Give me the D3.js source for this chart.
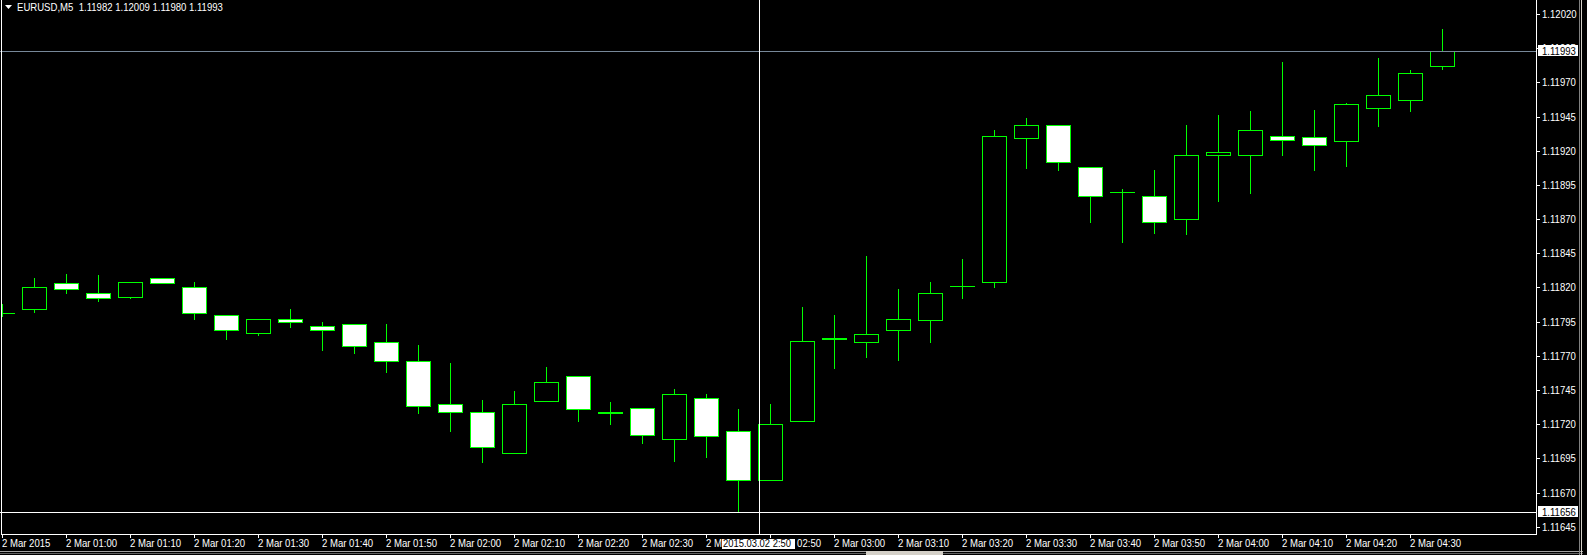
<!DOCTYPE html>
<html><head><meta charset="utf-8">
<script src="https://cdn.jsdelivr.net/npm/d3@7"></script>
<style>
html,body{margin:0;padding:0;background:#000;overflow:hidden}
svg{display:block}
text{font-family:"Liberation Sans",Arial,sans-serif;font-size:11px}
</style></head><body><svg id="c" width="1587" height="555"></svg>
<script>
// ---- data ----
const symbol = "EURUSD,M5";
const titleQuote = ["1.11982", "1.12009", "1.11980", "1.11993"];
const opens  = [1.11801,1.11804,1.11823,1.11816,1.11813,1.11827,1.11820,1.11800,1.11787,1.11797,
                1.11792,1.11793,1.11780,1.11766,1.11735,1.11729,1.11699,1.11737,1.11755,1.11728,
                1.11732,1.11709,1.11739,1.11715,1.11679,1.11722,1.11782,1.11780,1.11789,1.11796,
                1.11821,1.11824,1.11929,1.11939,1.11908,1.11890,1.11887,1.11870,1.11917,1.11917,
                1.11931,1.11930,1.11927,1.11951,1.11957,1.11982];
const highs  = [1.11808,1.11827,1.11830,1.11829,1.11824,1.11827,1.11824,1.11800,1.11797,1.11804,
                1.11795,1.11793,1.11793,1.11778,1.11765,1.11738,1.11744,1.11762,1.11755,1.11736,
                1.11732,1.11746,1.11742,1.11731,1.11735,1.11806,1.11800,1.11843,1.11819,1.11824,
                1.11841,1.11935,1.11944,1.11939,1.11908,1.11892,1.11906,1.11939,1.11946,1.11949,
                1.11985,1.11950,1.11955,1.11988,1.11979,1.12009];
const lows   = [1.11799,1.11802,1.11816,1.11810,1.11812,1.11823,1.11797,1.11782,1.11785,1.11791,
                1.11774,1.11772,1.11758,1.11728,1.11715,1.11692,1.11699,1.11737,1.11722,1.11720,
                1.11706,1.11693,1.11696,1.11656,1.11679,1.11722,1.11761,1.11769,1.11767,1.11780,
                1.11812,1.11820,1.11907,1.11906,1.11868,1.11853,1.11860,1.11859,1.11883,1.11889,
                1.11917,1.11906,1.11909,1.11938,1.11949,1.11980];
const closes = [1.11801,1.11820,1.11819,1.11812,1.11824,1.11823,1.11801,1.11789,1.11797,1.11795,
                1.11789,1.11777,1.11766,1.11733,1.11729,1.11703,1.11735,1.11751,1.11731,1.11729,
                1.11712,1.11742,1.11711,1.11679,1.11720,1.11781,1.11783,1.11786,1.11797,1.11816,
                1.11821,1.11931,1.11939,1.11912,1.11887,1.11890,1.11868,1.11917,1.11919,1.11935,
                1.11928,1.11924,1.11954,1.11961,1.11977,1.11993];
const priceTicks = [1.12020,1.11995,1.11970,1.11945,1.11920,1.11895,1.11870,1.11845,1.11820,
                    1.11795,1.11770,1.11745,1.11720,1.11695,1.11670,1.11645];
const timeTickLabels = ["2 Mar 2015","2 Mar 01:00","2 Mar 01:10","2 Mar 01:20","2 Mar 01:30",
  "2 Mar 01:40","2 Mar 01:50","2 Mar 02:00","2 Mar 02:10","2 Mar 02:20","2 Mar 02:30",
  "2 Mar 02:40","2 Mar 02:50","2 Mar 03:00","2 Mar 03:10","2 Mar 03:20","2 Mar 03:30",
  "2 Mar 03:40","2 Mar 03:50","2 Mar 04:00","2 Mar 04:10","2 Mar 04:20","2 Mar 04:30"];
const bidPrice = 1.11993;
const crossPrice = 1.11656;
const crossBar = 23.66;
const crossTimeLabel = "2015.03.02 2:50";

// ---- layout ----
const W = 1587, H = 555;
const plotL = 1, plotR = 1536, plotB = 534;
const GREEN = "#00ff00";
const NARROW = 0.87;
const svg = d3.select("#c");
svg.append("rect").attr("width", W).attr("height", H).attr("fill", "#000");

function narrow(sel, k) {
  sel.each(function () {
    const len = this.getComputedTextLength();
    d3.select(this).attr("textLength", len * (k || NARROW)).attr("lengthAdjust", "spacingAndGlyphs");
  });
  return sel;
}

const n = opens.length;
const x = d3.scaleLinear().domain([0, n - 1]).range([2, 2 + 32 * (n - 1)]);
const y = d3.scaleLinear().domain([1.11645, 1.12020]).range([526.7, 14.0]);
const py = v => Math.round(y(v));
const px = i => Math.round(x(i));

svg.append("defs").append("clipPath").attr("id", "plot")
  .append("rect").attr("x", plotL + 1).attr("y", 0).attr("width", plotR - plotL - 1).attr("height", plotB);

const g = svg.append("g").attr("clip-path", "url(#plot)");
const bars = d3.range(n).map(i => ({i, o: opens[i], h: highs[i], l: lows[i], c: closes[i]}));

// wicks
g.selectAll("rect.wick").data(bars).join("rect").attr("class", "wick")
  .attr("x", d => px(d.i)).attr("width", 1)
  .attr("y", d => py(d.h)).attr("height", d => py(d.l) - py(d.h) + 1)
  .attr("fill", GREEN);

// bodies
const bodies = bars.filter(d => py(d.o) !== py(d.c));
g.selectAll("rect.body").data(bodies).join("rect").attr("class", "body")
  .attr("x", d => px(d.i) - 12 + 0.5).attr("width", 24)
  .attr("y", d => Math.min(py(d.o), py(d.c)) + 0.5)
  .attr("height", d => Math.abs(py(d.o) - py(d.c)))
  .attr("fill", d => d.c > d.o ? "#000" : "#fff")
  .attr("stroke", GREEN).attr("stroke-width", 1);

// doji
const dojis = bars.filter(d => py(d.o) === py(d.c));
g.selectAll("line.doji").data(dojis).join("line").attr("class", "doji")
  .attr("x1", d => px(d.i) - 12).attr("x2", d => px(d.i) + 13)
  .attr("y1", d => py(d.o) + 0.5).attr("y2", d => py(d.o) + 0.5)
  .attr("stroke", GREEN).attr("stroke-width", 1);

// bid line & crosshair
svg.append("line").attr("x1", 0).attr("x2", plotR).attr("y1", py(bidPrice) + 0.5).attr("y2", py(bidPrice) + 0.5)
  .attr("stroke", "#778899").attr("stroke-width", 1);
svg.append("line").attr("x1", 0).attr("x2", plotR).attr("y1", py(crossPrice) + 0.5).attr("y2", py(crossPrice) + 0.5)
  .attr("stroke", "#fff").attr("stroke-width", 1);
const cx = Math.round(x(crossBar));
svg.append("line").attr("x1", cx + 0.5).attr("x2", cx + 0.5).attr("y1", 0).attr("y2", plotB)
  .attr("stroke", "#fff").attr("stroke-width", 1);

// frame
svg.append("line").attr("x1", plotL + 0.5).attr("x2", plotL + 0.5).attr("y1", 0).attr("y2", plotB + 1).attr("stroke", "#fff");
svg.append("line").attr("x1", plotR + 0.5).attr("x2", plotR + 0.5).attr("y1", 0).attr("y2", plotB + 1).attr("stroke", "#fff");
svg.append("line").attr("x1", plotL).attr("x2", plotR + 1).attr("y1", plotB + 0.5).attr("y2", plotB + 0.5).attr("stroke", "#fff");

// right price axis
const ya = svg.append("g");
priceTicks.forEach(p => {
  const yy = py(p);
  ya.append("line").attr("x1", plotR + 1).attr("x2", plotR + 4).attr("y1", yy + 0.5).attr("y2", yy + 0.5).attr("stroke", "#fff");
  narrow(ya.append("text").attr("x", 1542).attr("y", yy + 4).attr("fill", "#fff").text(p.toFixed(5)));
});
function priceBox(p) {
  const yy = py(p);
  ya.append("rect").attr("x", plotR + 2).attr("y", yy - 6).attr("width", 40).attr("height", 11).attr("fill", "#fff");
  narrow(ya.append("text").attr("x", 1542).attr("y", yy + 4).attr("fill", "#000").text(p.toFixed(5)));
}
priceBox(bidPrice);
priceBox(crossPrice);

// bottom time axis
const xa = svg.append("g");
timeTickLabels.forEach((lab, k) => {
  const xx = px(2 * k);
  xa.append("line").attr("x1", xx + 0.5).attr("x2", xx + 0.5).attr("y1", plotB + 1).attr("y2", plotB + 4).attr("stroke", "#fff");
  narrow(xa.append("text").attr("x", xx).attr("y", 547).attr("fill", "#fff").text(lab));
});
xa.append("rect").attr("x", cx - 37).attr("y", 539).attr("width", 73).attr("height", 10).attr("fill", "#fff");
xa.append("text").attr("x", cx - 36).attr("y", 547).attr("fill", "#000")
  .attr("textLength", 68).attr("lengthAdjust", "spacingAndGlyphs").text(crossTimeLabel);

// title
svg.append("path").attr("d", "M5,5 L12,5 L8.5,9 Z").attr("fill", "#fff");
narrow(svg.append("text").attr("x", 17).attr("y", 11).attr("fill", "#fff").attr("xml:space", "preserve")
  .text(symbol + "  " + titleQuote.join(" ")));

// window border bits
svg.append("line").attr("x1", 0).attr("x2", 1583).attr("y1", 551.5).attr("y2", 551.5).attr("stroke", "#a0a0a0");
svg.append("line").attr("x1", 0).attr("x2", 1583).attr("y1", 553.5).attr("y2", 553.5).attr("stroke", "#606060");
svg.append("rect").attr("x", 866).attr("y", 551).attr("width", 77).attr("height", 4).attr("fill", "#d4d0c8");
svg.append("line").attr("x1", 1579.5).attr("x2", 1579.5).attr("y1", 0).attr("y2", H).attr("stroke", "#808080");
svg.append("line").attr("x1", 1581.5).attr("x2", 1581.5).attr("y1", 0).attr("y2", H).attr("stroke", "#d4d0c8");
</script></body></html>
